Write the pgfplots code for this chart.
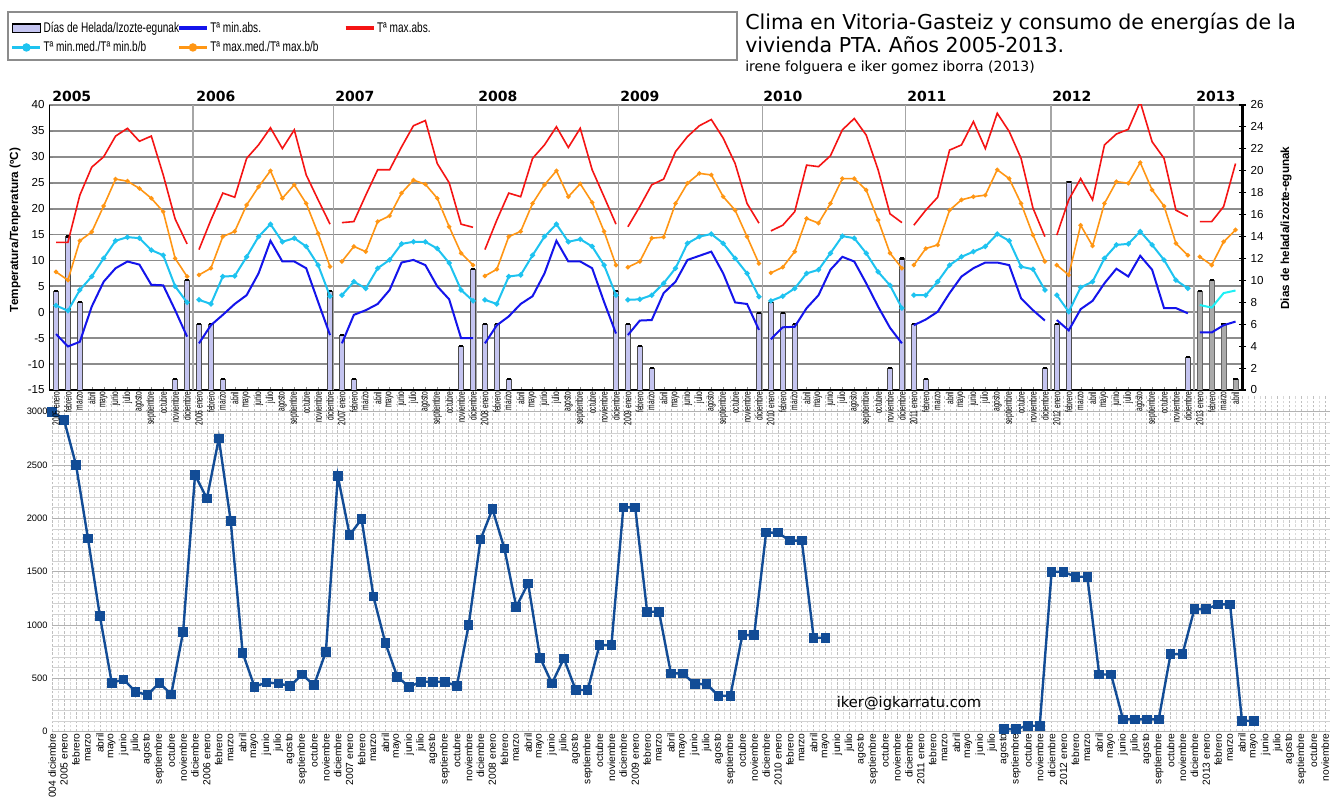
\documentclass[border=0pt]{standalone}
\usepackage{fontspec}
\setmainfont{Liberation Sans}
\newfontfamily\djv{DejaVu Sans}
\newfontfamily\narrow[FakeStretch=0.72]{Liberation Sans}
\newfontfamily\narrowb[FakeStretch=0.65]{Liberation Sans}
\usepackage{pgfplots}
\usepackage{pgfplotstable}
\pgfplotsset{compat=1.18}
\pgfplotsset{/pgf/number format/assume math mode=true, /pgf/number format/1000 sep={}}

\definecolor{lav}{RGB}{196,196,240}
\definecolor{tblue}{RGB}{20,20,235}
\definecolor{tred}{RGB}{245,20,20}
\definecolor{tcyan}{RGB}{30,195,240}
\definecolor{tcyan2}{RGB}{30,240,245}
\definecolor{torange}{RGB}{255,150,20}
\definecolor{enblue}{RGB}{18,76,150}
\definecolor{bar13}{RGB}{170,170,170}

\newcommand\mname[1]{\ifcase#1 enero\or febrero\or marzo\or abril\or mayo\or junio\or julio\or agosto\or septiembre\or octubre\or noviembre\or diciembre\fi}

\pgfplotstableread{
i bl rd cy or
0 -4.2 13.5 1.3 7.8
1 -6.6 13.5 0.3 6.2
2 -5.7 22.6 4.3 13.8
3 1.1 28.0 6.9 15.5
4 5.9 30.0 10.4 20.5
5 8.5 34.0 13.8 25.7
6 9.8 35.5 14.5 25.3
7 9.2 33.0 14.3 23.9
8 5.3 34.0 12.0 22.0
9 5.2 26.5 11.0 19.4
10 0.4 18.0 5.0 10.4
11 -4.7 13.2 1.9 6.9
11.5 nan nan nan nan
12 -6.0 12.1 2.4 7.2
13 -2.5 17.8 1.6 8.5
14 -0.5 23.0 6.9 14.6
15 1.6 22.2 7.0 15.6
16 3.3 29.7 10.7 20.7
17 7.5 32.3 14.6 24.2
18 13.8 35.6 17.0 27.3
19 9.8 31.6 13.6 22.0
20 9.8 35.2 14.3 24.6
21 8.5 26.5 12.7 21.0
22 2.0 21.7 9.1 15.2
23 -4.4 17.0 3.1 8.8
23.5 nan nan nan nan
24 -6.0 17.3 3.3 9.8
25 -0.5 17.5 5.9 12.7
26 0.4 22.6 4.6 11.7
27 1.6 27.5 8.5 17.5
28 4.3 27.5 10.1 18.6
29 9.6 31.9 13.2 23.0
30 10.1 36.0 13.6 25.5
31 9.1 37.0 13.6 24.7
32 5.0 28.7 12.3 22.0
33 2.5 25.0 9.5 16.5
34 -5.0 17.0 4.3 11.4
35 -5.0 16.4 2.2 9.1
35.5 nan nan nan nan
36 -6.0 12.1 2.4 7.0
37 -2.5 17.8 1.6 8.3
38 -0.8 23.0 6.9 14.6
39 1.6 22.3 7.2 15.6
40 3.1 29.7 11.0 21.0
41 7.5 32.3 14.6 24.6
42 13.8 35.8 17.0 27.3
43 9.8 31.8 13.6 22.3
44 9.8 35.5 14.1 24.8
45 8.5 27.5 12.7 21.2
46 2.0 22.3 9.1 15.6
47 -4.1 17.0 3.3 9.1
47.5 nan nan nan nan
48 -4.4 16.5 2.4 8.7
49 -1.6 20.4 2.5 9.8
50 -1.5 24.6 3.3 14.3
51 3.7 25.7 5.6 14.5
52 5.9 31.0 8.5 21.0
53 10.1 33.9 13.3 24.9
54 10.9 36.0 14.6 26.8
55 11.7 37.2 15.1 26.5
56 7.5 33.6 13.3 22.3
57 1.9 28.7 10.4 19.7
58 1.6 21.0 7.5 14.6
59 -3.4 17.2 3.0 9.4
59.5 nan nan nan nan
60 -5.2 15.7 2.2 7.6
61 -2.9 16.8 3.1 8.7
62 -2.8 19.4 4.6 11.7
63 0.8 28.4 7.5 18.1
64 3.3 28.1 8.2 17.2
65 8.2 30.2 11.4 21.0
66 10.7 35.2 14.7 25.8
67 9.8 37.4 14.3 25.8
68 5.6 34.2 11.4 23.6
69 1.1 27.5 7.8 17.8
70 -3.0 19.0 5.2 11.4
71 -6.0 17.3 0.8 8.5
71.5 nan nan nan nan
72 -2.5 16.8 3.3 9.1
73 -1.4 19.7 3.3 12.3
74 0.1 22.2 5.9 13.0
75 3.7 31.3 9.1 19.7
76 6.9 32.3 10.7 21.7
77 8.5 36.8 11.7 22.3
78 9.6 31.6 12.7 22.6
79 9.6 38.4 15.1 27.5
80 9.1 34.9 13.8 25.8
81 2.7 29.7 8.8 21.0
82 0.4 20.1 8.3 14.9
83 -1.6 14.6 4.3 9.8
83.5 nan nan nan nan
84 -1.5 14.9 3.3 9.1
85 -3.5 21.7 0.1 7.2
86 0.6 25.8 4.8 16.8
87 2.2 21.7 5.9 12.8
88 5.6 32.3 10.4 21.0
89 8.4 34.4 13.0 25.2
90 6.9 35.3 13.2 24.9
91 10.9 40.6 15.6 28.9
92 8.2 32.9 13.0 23.6
93 0.8 29.7 10.1 20.5
94 0.8 19.7 6.2 13.3
95 -0.2 18.5 4.6 11.0
95.5 nan nan nan nan
96 -3.9 17.5 1.4 10.7
97 -3.9 17.5 0.9 9.1
98 -2.5 20.4 3.7 13.6
99 -1.8 28.7 4.2 15.9
}\temps

\pgfplotstableread{
i d
0 9
1 14
2 8
10 1
11 10
12 6
13 6
14 1
23 9
24 5
25 1
34 4
35 11
36 6
37 6
38 1
47 9
48 6
49 4
50 2
59 7
60 8
61 7
62 6
70 2
71 12
72 6
73 1
83 2
84 6
85 19
95 3
}\frostA

\pgfplotstableread{
i d
96 9
97 10
98 6
99 1
}\frostB

\pgfplotstableread{
i v
0 3000
1 2920
2 2500
3 1812
4 1087
5 459
6 490
7 375
8 344
9 459
10 350
11 937
12 2406
13 2187
14 2750
15 1975
16 740
17 422
18 462
19 453
20 428
21 537
22 437
23 750
24 2397
25 1844
26 1994
27 1266
28 831
29 515
30 422
31 469
32 469
33 469
34 428
35 1000
36 1803
37 2087
38 1719
39 1172
40 1391
41 694
42 453
43 687
44 391
45 391
46 812
47 812
48 2103
49 2103
50 1125
51 1125
52 547
53 547
54 447
55 447
56 337
57 337
58 906
59 906
60 1866
61 1866
62 1791
63 1791
64 881
65 881
72 nan
80 25
81 25
82 56
83 56
84 1500
85 1500
86 1453
87 1453
88 537
89 537
90 116
91 116
92 116
93 116
94 728
95 728
96 1150
97 1150
98 1194
99 1194
100 103
101 103
}\energy

\pgfplotsset{topax/.style={at={(37pt,304.5pt)}, anchor=south west, scale only axis,
  width=895pt, height=213.75pt, xmin=-0.56, xmax=99.6}}

\begin{document}
\begin{tikzpicture}
\useasboundingbox (0,0) rectangle (997.5pt,597pt);
\fill[white] (0,0) rectangle (997.5pt,597pt);

% ---------------- bottom panel: energy ----------------
\begin{axis}[
  at={(39.2pt,48.2pt)}, anchor=south west, scale only axis,
  width=958.3pt, height=252pt,
  xmin=0, xmax=107.4, ymin=0, ymax=3150,
  clip=false, unbounded coords=jump,
  xtick={0,...,107}, ytick={0,500,...,3000},
  minor x tick num=1, minor y tick num=4,
  grid=both,
  major x grid style={gray!50, dash pattern=on 2pt off 1.2pt, line width=0.5pt},
  minor x grid style={gray!30, dash pattern=on 2pt off 1.2pt, line width=0.4pt},
  major y grid style={gray!60, line width=0.7pt},
  minor y grid style={gray!35, line width=0.5pt},
  axis line style={draw=none},
  tick style={draw=none},
  xticklabel={\pgfmathtruncatemacro\myM{mod(\ticknum+11,12)}\pgfmathtruncatemacro\myY{2004+floor((\ticknum+11)/12)}\ifnum\myM=0 \myY\space\else\ifnum\ticknum=0 \myY\space\fi\fi\mname{\myM}},
  xticklabel style={rotate=90, anchor=east, font=\fontsize{7.7}{8}\selectfont, inner sep=1pt},
  yticklabel style={font=\fontsize{7}{8}\selectfont},
]
\addplot[color=enblue, line width=1.8pt, mark=square*, mark size=2.7pt, mark options={solid, fill=enblue}] table[x=i,y=v]{\energy};
\end{axis}

% ---------------- top panel: frame, grid, month labels ----------------
\begin{axis}[topax,
  ymin=-15, ymax=40, ytick={-15,-10,...,40},
  axis background/.style={fill=white},
  axis x line*=bottom, axis y line*=left,
  x axis line style={black, line width=1.4pt, -},
  y axis line style={black, line width=0.8pt, -},
  ymajorgrids, major grid style={black!45, line width=1.4pt},
  xtick={0,...,99},
  major tick length=2.5pt,
  xticklabel={\pgfmathtruncatemacro\myM{mod(\ticknum,12)}\pgfmathtruncatemacro\myY{2005+floor(\ticknum/12)}\ifnum\myM=0 \myY\space\fi\mname{\myM}},
  xticklabel style={rotate=90, anchor=east, font=\narrowb\fontsize{7.7}{8}\selectfont, inner sep=1pt},
  yticklabel style={font=\fontsize{8.7}{9}\selectfont},
  extra x ticks={11.5,23.3,35.3,47.2,59.3,71.3,83.5,95.5},
  extra x tick labels={},
  extra x tick style={grid=major, major grid style={black!35, line width=1pt}, major tick length=0pt},
]
\addplot[draw=none] coordinates {(0,0)};
\end{axis}

% ---------------- top panel: frost-day bars, right axis ----------------
\begin{axis}[topax,
  ymin=0, ymax=26, ytick={0,2,...,26},
  axis x line=none, axis y line*=right,
  y axis line style={black, line width=1.8pt, -},
  tick align=center, major tick length=5pt,
  ytick style={black, line width=0.8pt},
  yticklabel style={font=\fontsize{8.7}{9}\selectfont},
]
\addplot[ybar, bar width=3.75pt, fill=lav, draw=black!70, line width=0.4pt] table[x=i,y=d]{\frostA};
\addplot[ybar, bar width=3.75pt, fill=bar13, draw=black!60, line width=0.4pt] table[x=i,y=d]{\frostB};
\addplot[only marks, mark=-, mark size=1.6pt, mark options={black, line width=1.6pt}] table[x=i,y=d]{\frostA};
\addplot[only marks, mark=-, mark size=1.6pt, mark options={black, line width=1.6pt}] table[x=i,y=d]{\frostB};
\end{axis}

% ---------------- top panel: temperature lines + legend ----------------
\begin{axis}[topax,
  ymin=-15, ymax=40, hide axis, unbounded coords=jump,
  legend columns=3,
  legend cell align=left,
  legend style={at={(-0.0324,1.2982)}, anchor=north west, draw=none, fill=none,
    column sep=0pt, row sep=3pt, inner sep=0pt, nodes={inner sep=1.2pt},
    font=\narrow\fontsize{10.5}{12}\selectfont},
  legend image code/.code={\draw[mark repeat=2,mark phase=2,#1] plot coordinates {(0cm,0cm) (0.37cm,0cm) (0.74cm,0cm)};},
]
\addlegendimage{legend image code/.code={\draw[fill=lav,draw=black,line width=1pt] (0cm,-0.11cm) rectangle (0.74cm,0.11cm);}}
\addlegendentry{\makebox[99pt][l]{Días de Helada/Izozte-egunak}}
\addplot[tblue, line width=1.5pt, legend image post style={line width=2.6pt}] table[x=i,y=bl]{\temps};
\addlegendentry{\makebox[99pt][l]{Tª min.abs.}}
\addplot[tred, line width=1.2pt, legend image post style={line width=2.6pt}] table[x=i,y=rd]{\temps};
\addlegendentry{\makebox[99pt][l]{Tª max.abs.}}
\addplot[tcyan, line width=1.5pt, mark=*, mark size=1.1pt, restrict x to domain=0:95.9, legend image post style={line width=2.2pt, mark size=2pt}] table[x=i,y=cy]{\temps};
\addlegendentry{\makebox[99pt][l]{Tª min.med./Tª min.b/b}}
\addplot[torange, line width=1.2pt, mark=*, mark size=1.0pt, legend image post style={line width=2.2pt, mark size=2pt}] table[x=i,y=or]{\temps};
\addlegendentry{\makebox[99pt][l]{Tª max.med./Tª max.b/b}}
\addplot[tcyan2, line width=1.5pt, restrict x to domain=96:99, forget plot] table[x=i,y=cy]{\temps};
\end{axis}

% ---------------- texts ----------------
\draw[black!45, line width=0.8pt] (6pt,588pt) rectangle (552.75pt,552pt);
\node[anchor=base west, inner sep=0pt, font=\djv\fontsize{15.4}{18}\selectfont] at (558.75pt,574.5pt) {Clima en Vitoria-Gasteiz y consumo de energías de la};
\node[anchor=base west, inner sep=0pt, font=\djv\fontsize{15.4}{18}\selectfont] at (558.75pt,557.25pt) {vivienda PTA. Años 2005-2013.};
\node[anchor=base west, inner sep=0pt, font=\djv\fontsize{10.5}{12}\selectfont] at (558.75pt,543pt) {irene folguera e iker gomez iborra (2013)};
\foreach \yr/\xx in {2005/39,2006/147,2007/251.25,2008/358.5,2009/465,2010/572.25,2011/680.25,2012/789,2013/897}
  \node[anchor=base west, inner sep=0pt, font=\djv\bfseries\fontsize{10.5}{12}\selectfont] at (\xx pt,520.5pt) {\yr};
\node[rotate=90, font=\bfseries\fontsize{8.8}{10}\selectfont] at (11.25pt,424.5pt) {Temperatura/Tenperatura (ºC)};
\node[rotate=90, font=\bfseries\fontsize{8.8}{10}\selectfont] at (964.5pt,426pt) {Dias de helada/izozte-egunak};
\node[font=\djv\fontsize{11}{13}\selectfont] at (681.75pt,69.75pt) {iker@igkarratu.com};
\end{tikzpicture}
\end{document}
